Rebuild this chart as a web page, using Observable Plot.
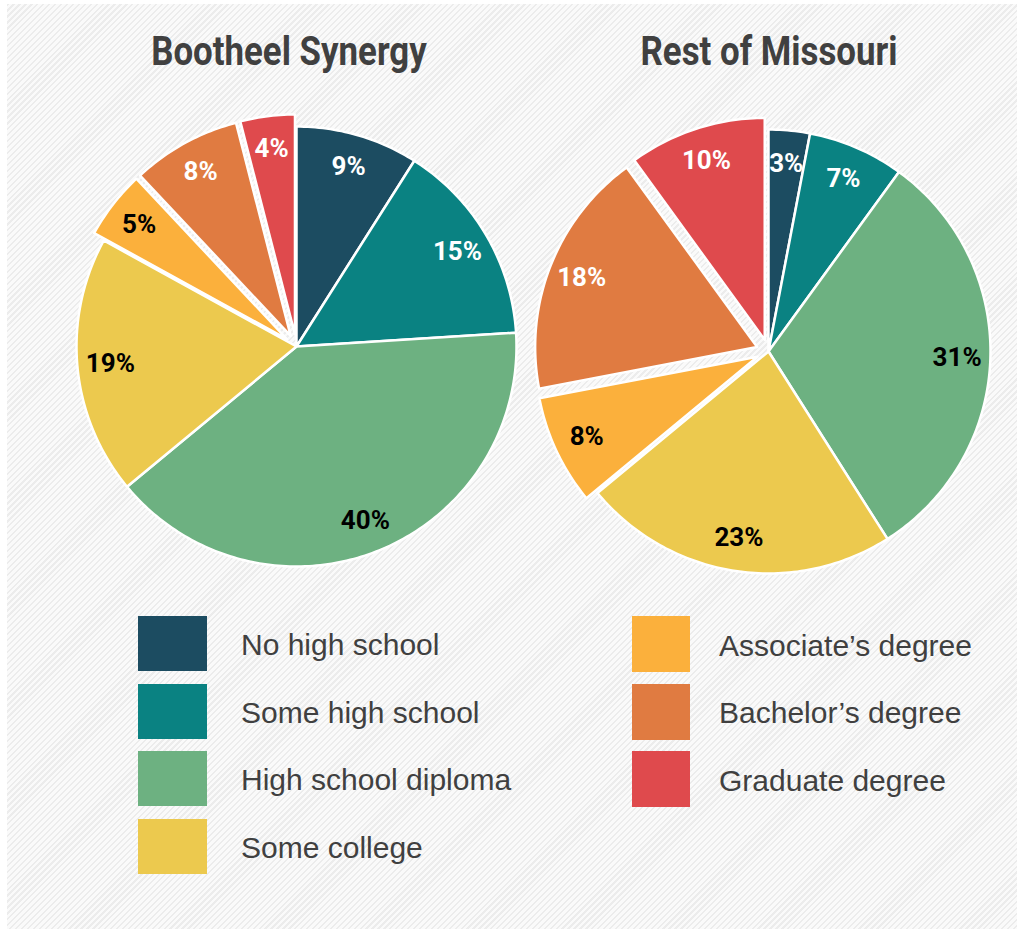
<!DOCTYPE html>
<html><head><meta charset="utf-8">
<script src="https://cdn.jsdelivr.net/npm/d3@7"></script>
<script src="https://cdn.jsdelivr.net/npm/@observablehq/plot@0.6"></script>
<style>
body{margin:0;background:#fff;}
#wrap{position:relative;width:1017px;height:929px;overflow:hidden;}
#bg{position:absolute;left:7px;top:4px;right:0;bottom:0;background:repeating-linear-gradient(135deg,#ececec 0 1.6px,#fafafa 1.6px 4.2px);}
.title{position:absolute;width:400px;text-align:center;font-family:Roboto,sans-serif;font-weight:bold;font-size:41px;line-height:40px;color:#404040;transform:scaleX(0.85);transform-origin:center;}
.pie{position:absolute;top:0;}
.sw{position:absolute;}
.lt{position:absolute;font-family:"Liberation Sans",Arial,sans-serif;font-size:30px;color:#404040;white-space:nowrap;display:flex;align-items:center;padding-top:3px;box-sizing:border-box;}
</style></head><body>
<div id="wrap"><div id="bg"></div></div>
<script>
const categories = ["No high school","Some high school","High school diploma","Some college","Associate’s degree","Bachelor’s degree","Graduate degree"];
const colors = ["#1c4c61","#0a8282","#6db181","#ecc94e","#fbb03c","#e07b41","#df4a4d"];
const regions = ["Bootheel Synergy","Rest of Missouri"];
const bootheelValues = [9,15,40,19,5,8,4];
const missouriValues = [3,7,31,23,8,18,10];
const explodedCategories = ["Associate’s degree","Bachelor’s degree","Graduate degree"];
const blackLabelCategories = ["High school diploma","Some college","Associate’s degree"];

const EXPLODE = 0.055;   // pull-out distance, in radius units
const LABEL_R = 0.85;    // label distance, in radius units
const labelFont = 'Roboto,sans-serif';

function slices(values) {
  const total = d3.sum(values);
  let acc = 0;
  return values.map((v, i) => {
    const a0 = acc / total * 2 * Math.PI; acc += v;
    const a1 = acc / total * 2 * Math.PI;
    const mid = (a0 + a1) / 2;
    const off = explodedCategories.includes(categories[i]) ? EXPLODE : 0;
    return {category: categories[i], value: v, a0, a1, mid,
      ox: off * Math.sin(mid), oy: off * Math.cos(mid),
      lx: off * Math.sin(mid) + LABEL_R * Math.sin(mid),
      ly: off * Math.cos(mid) + LABEL_R * Math.cos(mid)};
  });
}

function piePlot(values, {width, height, cx, cy, r}) {
  const s = slices(values);
  const pts = s.flatMap(d => {
    const n = Math.max(2, Math.ceil((d.a1 - d.a0) / (Math.PI / 180)));
    const arr = [{category: d.category, x: d.ox, y: d.oy}];
    for (let k = 0; k <= n; k++) {
      const a = d.a0 + (d.a1 - d.a0) * k / n;
      arr.push({category: d.category, x: d.ox + Math.sin(a), y: d.oy + Math.cos(a)});
    }
    return arr;
  });
  const textOpts = (fill) => ({x: "lx", y: "ly", text: d => d.value + "%", fill,
    fontSize: 26, fontWeight: "bold", fontFamily: labelFont});
  return Plot.plot({
    width, height, margin: 0,
    x: {domain: [-cx / r, (width - cx) / r], axis: null},
    y: {domain: [-(height - cy) / r, cy / r], axis: null},
    color: {domain: categories, range: colors},
    style: {background: "transparent", overflow: "visible"},
    marks: [
      Plot.line(pts, {x: "x", y: "y", z: "category", fill: "category", stroke: "white", strokeWidth: 2.5, curve: "linear-closed"}),
      Plot.text(s.filter(d => !blackLabelCategories.includes(d.category)), textOpts("white")),
      Plot.text(s.filter(d => blackLabelCategories.includes(d.category)), textOpts("black"))
    ]
  });
}

const wrap = document.getElementById("wrap");
const layouts = [
  {left: 0, width: 530, height: 600, cx: 296, cy: 346, r: 220, titleLeft: 89},
  {left: 530, width: 487, height: 600, cx: 238, cy: 351, r: 222, titleLeft: 569}
];
[bootheelValues, missouriValues].forEach((vals, i) => {
  const L = layouts[i];
  const t = document.createElement("div");
  t.className = "title"; t.textContent = regions[i];
  t.style.left = L.titleLeft + "px"; t.style.top = "31px";
  wrap.appendChild(t);
  const p = piePlot(vals, L);
  p.classList.add("pie");
  p.style.left = L.left + "px";
  wrap.appendChild(p);
});

// legend
const legendCols = [
  {sx: 138, sw: 69, sh: 55, tx: 241, top: 616},
  {sx: 632, sw: 58, sh: 56, tx: 719, top: 616}
];
categories.forEach((c, i) => {
  const col = i < 4 ? legendCols[0] : legendCols[1];
  const row = i < 4 ? i : i - 4;
  const top = col.top + row * 67.5;
  const sw = document.createElement("div");
  sw.className = "sw";
  Object.assign(sw.style, {left: col.sx + "px", top: top + "px", width: col.sw + "px", height: col.sh + "px", background: colors[i]});
  wrap.appendChild(sw);
  const lt = document.createElement("div");
  lt.className = "lt"; lt.textContent = c;
  Object.assign(lt.style, {left: col.tx + "px", top: top + "px", height: col.sh + "px"});
  wrap.appendChild(lt);
});
</script>
</body></html>
